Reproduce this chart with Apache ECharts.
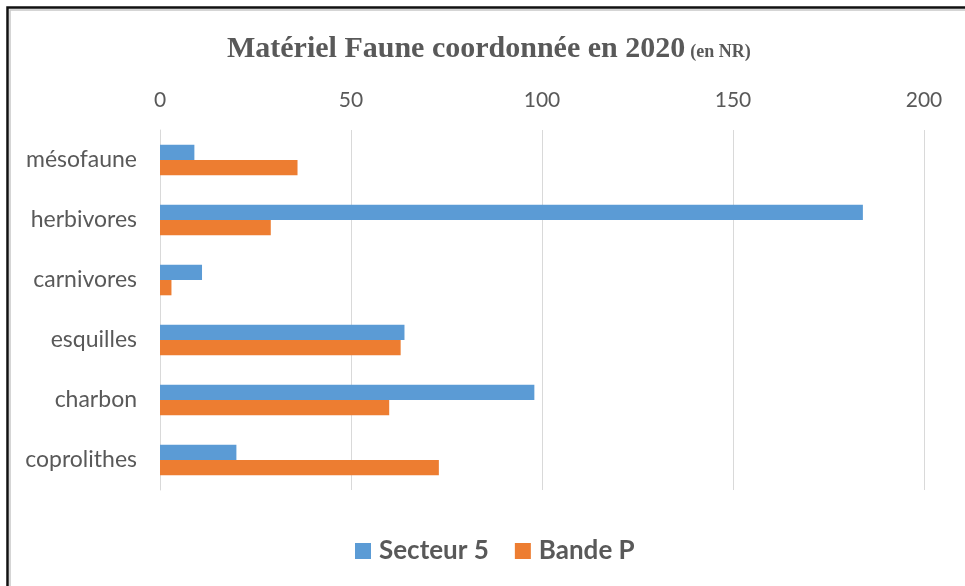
<!DOCTYPE html>
<html>
<head>
<meta charset="utf-8">
<script src="https://cdn.jsdelivr.net/npm/echarts@6/dist/echarts.min.js"></script>
<style>
  html, body { margin: 0; padding: 0; background: #fff; }
  #main { width: 965px; height: 586px; }
</style>
</head>
<body>
<div id="main"></div>
<script>
// données
var categories = ['mésofaune', 'herbivores', 'carnivores', 'esquilles', 'charbon', 'coprolithes'];
var secteur5 = [9, 184, 11, 64, 98, 20];
var bandeP = [36, 29, 3, 63, 60, 73];
var xTicks = [0, 50, 100, 150, 200];

var myChart = echarts.init(document.getElementById('main'));

var option = {
  animation: false,
  backgroundColor: '#fff',
  title: {
    text: '{a|Matériel Faune coordonnée en 2020} {b|(en NR)}',
    left: 222,
    top: 29,
    textStyle: {
      rich: {
        a: { fontFamily: 'Liberation Serif', fontWeight: 'bold', fontSize: 30, color: '#595959' },
        b: { fontFamily: 'Liberation Serif', fontWeight: 'bold', fontSize: 18, color: '#595959', padding: [7, 0, 0, 0] }
      }
    }
  },
  legend: {
    left: 350,
    top: 533,
    itemWidth: 16,
    itemHeight: 16,
    itemGap: 26,
    icon: 'rect',
    textStyle: { fontFamily: 'Lato', fontWeight: 'bold', fontSize: 26, color: '#595959', padding: [0, 0, 0, 3] },
    data: ['Secteur 5', 'Bande P']
  },
  grid: { left: 160, right: 41, top: 130, height: 360 },
  xAxis: {
    type: 'value',
    position: 'top',
    min: xTicks[0],
    max: xTicks[xTicks.length - 1],
    interval: 50,
    axisLine: { show: false },
    axisTick: { show: false },
    axisLabel: { fontFamily: 'Lato', fontSize: 21, color: '#595959', margin: 19 },
    splitLine: { lineStyle: { color: '#d9d9d9', width: 1 } }
  },
  yAxis: {
    type: 'category',
    inverse: true,
    data: categories,
    axisLine: { lineStyle: { color: '#d9d9d9' } },
    axisTick: { show: false },
    axisLabel: { fontFamily: 'Lato', fontSize: 23, color: '#595959', margin: 23 }
  },
  series: [
    {
      name: 'Secteur 5', type: 'bar', data: secteur5,
      barGap: '0%', barCategoryGap: '49%',
      itemStyle: { color: '#5b9bd5' }
    },
    {
      name: 'Bande P', type: 'bar', data: bandeP,
      barGap: '0%', barCategoryGap: '49%',
      itemStyle: { color: '#ed7d31' }
    }
  ],
  graphic: [
    { type: 'rect', silent: true, shape: { x: 10, y: 10, width: 1000, height: 1000 },
      style: { fill: null, stroke: '#c8c8c8', lineWidth: 1.5 } },
    { type: 'rect', silent: true, shape: { x: 7.5, y: 7.5, width: 1000, height: 1000 },
      style: { fill: null, stroke: '#111', lineWidth: 2.5 } }
  ]
};

myChart.setOption(option);
</script>
</body>
</html>
